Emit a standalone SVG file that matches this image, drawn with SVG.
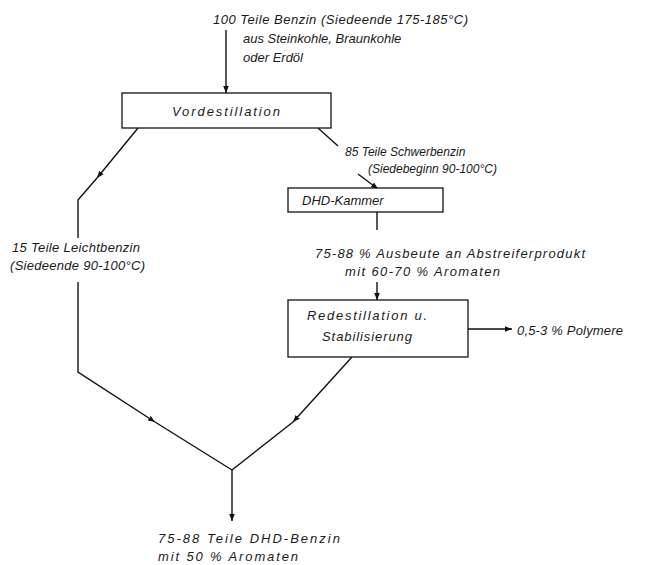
<svg xmlns="http://www.w3.org/2000/svg" width="652" height="565" viewBox="0 0 652 565">
<style>
.t{font-family:"Liberation Sans",Arial,sans-serif;font-style:italic;font-size:13px;fill:#1a1a1a}
.s{font-size:12px}
.b{fill:#fff;stroke:#111;stroke-width:1.3}
.l{fill:none;stroke:#111;stroke-width:1.4}
</style>
<defs>
<marker id="ah" viewBox="0 0 10 10" refX="10" refY="5" markerWidth="7" markerHeight="7" orient="auto" markerUnits="userSpaceOnUse">
<path d="M0,1 L10,5 L0,9 z" fill="#111"/>
</marker>
</defs>
<rect width="652" height="565" fill="#fff"/>
<g id="connectors">
<line class="l" x1="226" y1="30" x2="226" y2="93" marker-end="url(#ah)"/>
<path class="l" d="M138,128 L97,178" marker-end="url(#ah)"/>
<path class="l" d="M97,178 L78,200 L78,238"/>
<path class="l" d="M78,282 L78,372 L155,422" marker-end="url(#ah)"/>
<path class="l" d="M155,422 L232,470"/>
<path class="l" d="M318,128 L338,146"/>
<path class="l" d="M358,174 L378,189" marker-end="url(#ah)"/>
<line class="l" x1="377" y1="212" x2="377" y2="230"/>
<line class="l" x1="377" y1="282" x2="377" y2="300" marker-end="url(#ah)"/>
<line class="l" x1="468" y1="329" x2="512" y2="329" marker-end="url(#ah)"/>
<path class="l" d="M352,357 L293,422" marker-end="url(#ah)"/>
<path class="l" d="M293,422 L232,470"/>
<line class="l" x1="232" y1="470" x2="232" y2="521" marker-end="url(#ah)"/>
</g>
<g id="input">
<text class="t" x="213" y="24" textLength="255">100 Teile Benzin (Siedeende 175-185°C)</text>
<text class="t" x="243" y="43">aus Steinkohle, Braunkohle</text>
<text class="t" x="243" y="62">oder Erdöl</text>
</g>
<g id="vordestillation">
<rect class="b" x="122" y="93" width="209" height="35"/>
<text class="t" x="172" y="116" textLength="108">Vordestillation</text>
</g>
<g id="schwerbenzin">
<text class="t s" x="345" y="156">85 Teile Schwerbenzin</text>
<text class="t s" x="368" y="173">(Siedebeginn 90-100°C)</text>
</g>
<g id="dhd-kammer">
<rect class="b" x="288" y="188" width="155" height="24"/>
<text class="t" x="302" y="205">DHD-Kammer</text>
</g>
<g id="abstreiferprodukt">
<text class="t" x="315" y="258" textLength="270">75-88 % Ausbeute an Abstreiferprodukt</text>
<text class="t" x="345" y="276" textLength="155">mit 60-70 % Aromaten</text>
</g>
<g id="redestillation">
<rect class="b" x="288" y="300" width="180" height="57"/>
<text class="t" x="307" y="320" textLength="120">Redestillation u.</text>
<text class="t" x="322" y="341" textLength="90">Stabilisierung</text>
</g>
<g id="polymere">
<text class="t" x="517" y="335" textLength="106">0,5-3 % Polymere</text>
</g>
<g id="leichtbenzin">
<text class="t" x="12" y="252" textLength="128">15 Teile Leichtbenzin</text>
<text class="t" x="10" y="270" textLength="135">(Siedeende 90-100°C)</text>
</g>
<g id="dhd-benzin">
<text class="t" x="158" y="543" textLength="182">75-88 Teile DHD-Benzin</text>
<text class="t" x="158" y="561" textLength="140">mit 50 % Aromaten</text>
</g>
</svg>
